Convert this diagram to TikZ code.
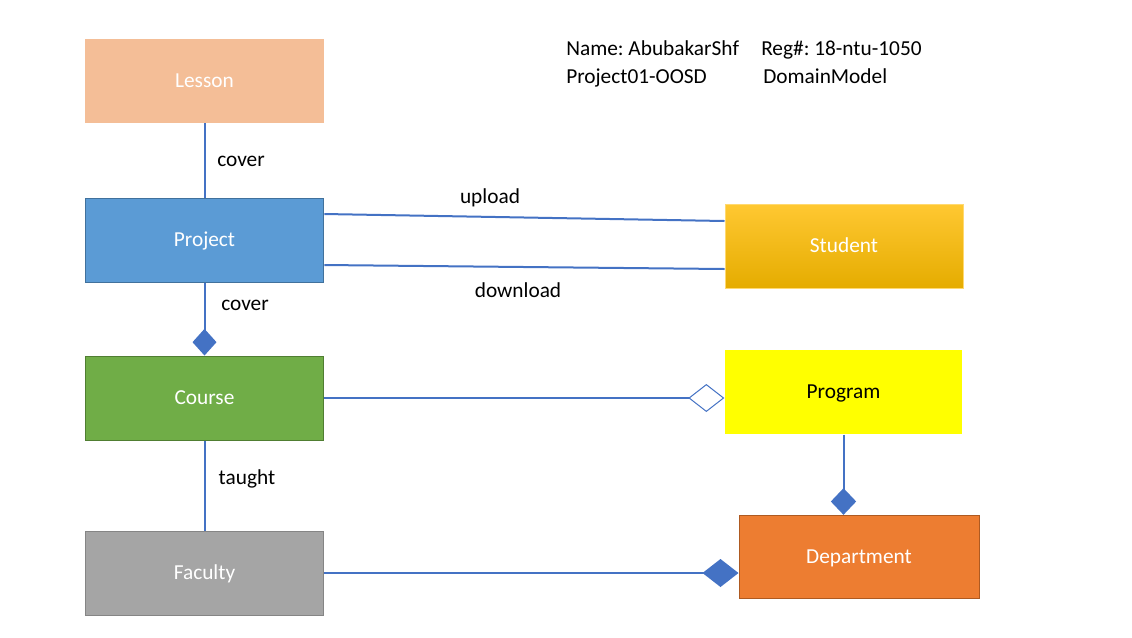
\documentclass[tikz,border=0pt]{standalone}
\usepackage{fontspec}
\setmainfont{Carlito}
\usetikzlibrary{arrows.meta,calc}

\definecolor{lessonc}{HTML}{F4BE97}
\definecolor{projectc}{HTML}{5B9BD5}
\definecolor{projectb}{HTML}{41719C}
\definecolor{coursec}{HTML}{70AD47}
\definecolor{courseb}{HTML}{507E32}
\definecolor{facultyc}{HTML}{A5A5A5}
\definecolor{facultyb}{HTML}{858585}
\definecolor{studentt}{HTML}{FFC832}
\definecolor{studentb}{HTML}{E5AC00}
\definecolor{programc}{HTML}{FFFF00}
\definecolor{deptc}{HTML}{ED7D31}
\definecolor{deptb}{HTML}{AE5A21}
\definecolor{linkc}{HTML}{4472C4}

\tikzset{
  cls/.style={minimum width=179pt,minimum height=63pt,inner sep=0pt,text=white,line width=0.75pt,
    text height=10.3pt,text depth=0pt},
  lnk/.style={draw=linkc,line width=1.5pt},
  lbl/.style={inner sep=0.75pt,text=black},
}

\begin{document}
\frenchspacing
\begin{tikzpicture}[x=0.75pt,y=0.75pt,yscale=-1,xscale=1,font=\fontsize{16}{19}\selectfont]
\useasboundingbox (0,0) rectangle (1132,637);

%Shape: Rectangle [lesson]
\node [cls,fill=lessonc] (lesson) at (204.5,80.5) {Lesson};
%Shape: Rectangle [project]
\node [cls,fill=projectc,draw=projectb] (project) at (204.5,240) {Project};
%Shape: Rectangle [course]
\node [cls,fill=coursec,draw=courseb] (course) at (204.5,398) {Course};
%Shape: Rectangle [faculty]
\node [cls,fill=facultyc,draw=facultyb] (faculty) at (204.5,573) {Faculty};
%Shape: Rectangle [student]
\node [cls,minimum width=178.5pt,top color=studentt,bottom color=studentb,draw=studentt!70!white] (student) at (844,246) {Student};
%Shape: Rectangle [program]
\node [cls,minimum width=178pt,fill=programc,text=black] (program) at (843.5,392) {Program};
%Shape: Rectangle [department]
\node [cls,minimum width=180pt,minimum height=62.5pt,fill=deptc,draw=deptb] (department) at (859,557) {Department};

%Straight Lines
\draw [lnk] (lesson) -- (project);
\draw [lnk,-{Diamond[length=20pt,width=18pt,fill=linkc]}] (project) -- (course);
\draw [lnk] (course) -- (faculty);
\draw [lnk] ($(project.east)+(0,-26)$) -- ($(student.west)+(0,-25)$);
\draw [lnk] ($(project.east)+(0,25)$) -- ($(student.west)+(0,23)$);
\draw [lnk,-{Diamond[open,length=27pt,width=21pt,line width=0.75pt,fill=white]}] (course.east) -- (course.east -| program.west);
\draw [lnk,-{Diamond[length=20pt,width=19pt,fill=linkc]}] (program.south) -- (program.south |- department.north);
\draw [lnk,-{Diamond[length=27pt,width=21pt,fill=linkc]}] (faculty.east) -- (faculty.east -| department.west);

% Text Node
\node [lbl] (cover1) at (241,161) {cover};
\node [lbl] (upload) at (490,198) {upload};
\node [lbl] (download) at (518,290) {download};
\node [lbl] (cover2) at (245,305) {cover};
\node [lbl] (taught) at (247,479) {taught};
\node [lbl,anchor=base west] (name) at (565,55) {Name: AbubakarShf};
\node [lbl,anchor=base west] (reg) at (760,55) {Reg\#: 18-ntu-1050};
\node [lbl,anchor=base west] (proj) at (565,83) {Project01-OOSD};
\node [lbl,anchor=base west] (model) at (762,83) {DomainModel};

\end{tikzpicture}
\end{document}
